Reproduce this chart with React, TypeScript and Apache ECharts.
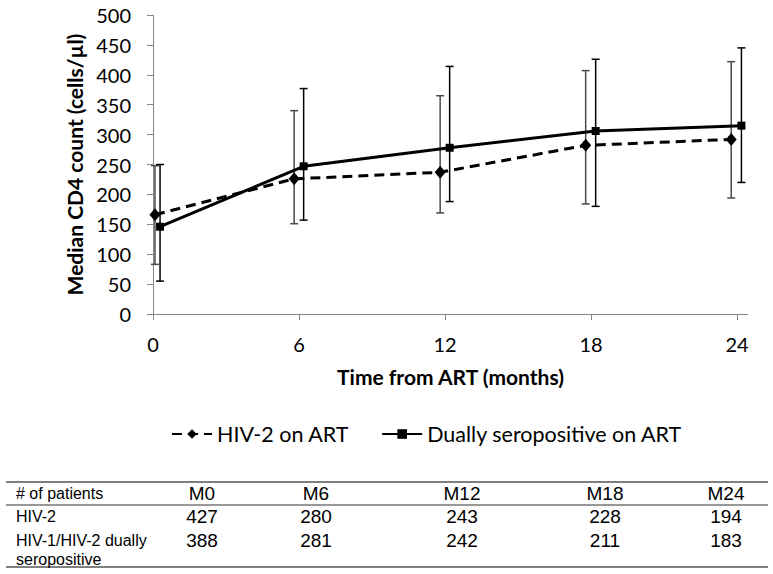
import React, { useEffect, useRef } from 'react';
import * as echarts from 'echarts';

// ---- data ----
const monthTicks = [0, 6, 12, 18, 24];

const hiv2Name = 'HIV-2 on ART';
const hiv2X = [0.08, 5.8, 11.8, 17.78, 23.76];
const hiv2Median = [166, 226, 237, 282, 292];
const hiv2Low = [83, 151, 169, 184, 194];
const hiv2High = [248, 340, 365, 407, 422];

const dualName = 'Dually seropositive on ART';
const dualX = [0.29, 6.19, 12.19, 18.19, 24.18];
const dualMedian = [146, 247, 278, 306, 315];
const dualLow = [55, 157, 188, 180, 220];
const dualHigh = [250, 377, 414, 426, 445];

const tableTitle = '# of patients';
const tableHeaders = ['M0', 'M6', 'M12', 'M18', 'M24'];
const hiv2RowLabel = ['HIV-2'];
const hiv2Patients = [427, 280, 243, 228, 194];
const dualRowLabel = ['HIV-1/HIV-2 dually', 'seropositive'];
const dualPatients = [388, 281, 242, 211, 183];

// ---- layout ----
const FONT = 'Lato';
const colCenters = [202, 316, 462, 605, 726];

function errorBars(name: string, xs: number[], lo: number[], hi: number[], color: string) {
  return {
    name: name + ' error',
    type: 'custom',
    z: 1,
    silent: true,
    encode: { x: 0, y: [1, 2] },
    data: xs.map((x, i) => [x, lo[i], hi[i]]),
    renderItem: (_params: any, api: any) => {
      const x = api.value(0);
      const pLo = api.coord([x, api.value(1)]);
      const pHi = api.coord([x, api.value(2)]);
      const cap = 4;
      const style = { stroke: color, lineWidth: 1.5 };
      return {
        type: 'group',
        children: [
          { type: 'line', shape: { x1: pLo[0], y1: pLo[1], x2: pHi[0], y2: pHi[1] }, style },
          { type: 'line', shape: { x1: pLo[0] - cap, y1: pLo[1], x2: pLo[0] + cap, y2: pLo[1] }, style },
          { type: 'line', shape: { x1: pHi[0] - cap, y1: pHi[1], x2: pHi[0] + cap, y2: pHi[1] }, style },
        ],
      };
    },
  };
}

function buildTable() {
  const els: any[] = [];
  const txt = (text: string, x: number, y: number, size: number, align: string) => ({
    type: 'text',
    style: {
      text,
      x,
      y,
      fill: '#000',
      font: `${size}px "Liberation Sans", Arial, sans-serif`,
      textAlign: align,
      textVerticalAlign: 'middle',
    },
  });
  const line = (y: number, color: string, w: number) => ({
    type: 'line',
    shape: { x1: 6, y1: y, x2: 768, y2: y },
    style: { stroke: color, lineWidth: w },
  });
  els.push(line(482, '#7f7f7f', 2));
  els.push(line(505, '#333', 1));
  els.push(line(567, '#7f7f7f', 2));
  els.push(txt(tableTitle, 16, 493, 16, 'left'));
  tableHeaders.forEach((h, i) => els.push(txt(h, colCenters[i], 493, 19, 'center')));
  hiv2RowLabel.forEach((l, k) => els.push(txt(l, 16, 516 + k * 19, 16, 'left')));
  hiv2Patients.forEach((v, i) => els.push(txt(String(v), colCenters[i], 516, 19, 'center')));
  dualRowLabel.forEach((l, k) => els.push(txt(l, 16, 540 + k * 19, 16, 'left')));
  dualPatients.forEach((v, i) => els.push(txt(String(v), colCenters[i], 540, 19, 'center')));
  return els;
}

export default function App() {
  const ref = useRef<HTMLDivElement>(null);
  useEffect(() => {
    document.body.style.margin = '0';
    const chart = echarts.init(ref.current!, null, { renderer: 'svg' });
    const axisColor = '#878787';
    chart.setOption({
      animation: false,
      backgroundColor: '#fff',
      grid: { left: 153, right: 25, top: 15, bottom: 260, containLabel: false },
      xAxis: {
        type: 'value',
        min: 0,
        max: 24.45,
        name: 'Time from ART (months)',
        nameLocation: 'middle',
        nameGap: 52,
        nameTextStyle: { fontFamily: FONT, fontSize: 21, fontWeight: 'bold', color: '#000' },
        axisLine: { show: true, lineStyle: { color: axisColor, width: 1 } },
        axisTick: { show: true, length: 6, lineStyle: { color: axisColor }, customValues: monthTicks },
        axisLabel: {
          fontFamily: FONT,
          fontSize: 20,
          color: '#000',
          margin: 20,
          customValues: monthTicks,
        },
        splitLine: { show: false },
      },
      yAxis: {
        type: 'value',
        min: 0,
        max: 500,
        interval: 50,
        name: 'Median CD4 count (cells/µl)',
        nameLocation: 'middle',
        nameGap: 62,
        nameTextStyle: { fontFamily: FONT, fontSize: 21, fontWeight: 'bold', color: '#000' },
        axisLine: { show: true, lineStyle: { color: axisColor, width: 1 } },
        axisTick: { show: true, length: 6, lineStyle: { color: axisColor } },
        axisLabel: { fontFamily: FONT, fontSize: 20, color: '#000', margin: 22 },
        splitLine: { show: false },
      },
      legend: {
        data: [hiv2Name, dualName],
        left: 166,
        top: 418,
        itemWidth: 40,
        itemHeight: 12,
        itemGap: 32,
        textStyle: { fontFamily: FONT, fontSize: 21.5, color: '#000' },
      },
      graphic: buildTable(),
      series: [
        errorBars(hiv2Name, hiv2X, hiv2Low, hiv2High, '#4a4a4a'),
        errorBars(dualName, dualX, dualLow, dualHigh, '#000'),
        {
          name: hiv2Name,
          type: 'line',
          z: 3,
          data: hiv2X.map((x, i) => [x, hiv2Median[i]]),
          symbol: 'diamond',
          symbolSize: [11, 13],
          showSymbol: true,
          lineStyle: { color: '#000', width: 3, type: [10, 6] },
          itemStyle: { color: '#000' },
        },
        {
          name: dualName,
          type: 'line',
          z: 3,
          data: dualX.map((x, i) => [x, dualMedian[i]]),
          symbol: 'rect',
          symbolSize: 8,
          showSymbol: true,
          lineStyle: { color: '#000', width: 3 },
          itemStyle: { color: '#000' },
        },
      ],
    });
    return () => chart.dispose();
  }, []);
  return <div ref={ref} style={{ width: 773, height: 574 }} />;
}
